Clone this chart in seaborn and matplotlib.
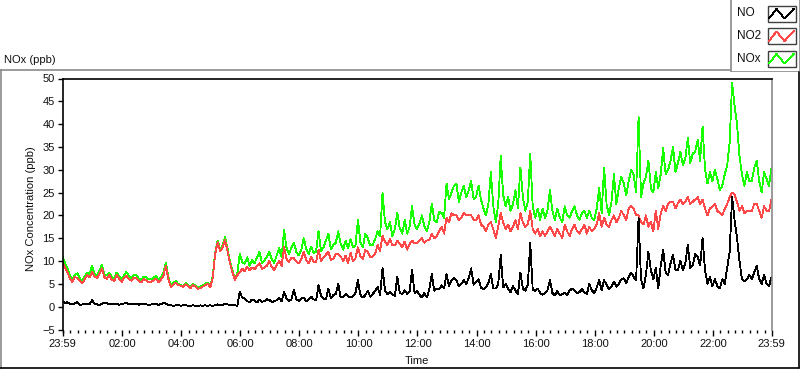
import numpy as np
import pandas as pd
import matplotlib
matplotlib.use("Agg")
import matplotlib.pyplot as plt
from matplotlib.lines import Line2D
from matplotlib.patches import Rectangle
import seaborn as sns

# ---------------- data (5-minute samples, minutes after 23:59) ----------------
minutes = np.arange(0, 1441, 5)

nox = [
    11.0, 9.6, 8.5, 6.8, 6.0, 7.0, 7.3, 6.2, 5.6, 6.6, 7.5, 7.0,
    9.0, 7.2, 6.8, 7.8, 9.2, 7.1, 6.9, 7.4, 6.5, 6.2, 7.5, 6.7,
    6.0, 6.9, 7.6, 6.6, 6.3, 7.0, 6.9, 6.1, 5.9, 6.6, 6.4, 6.0,
    6.0, 6.4, 6.7, 5.9, 6.5, 7.4, 9.7, 6.5, 4.6, 5.2, 5.6, 5.0,
    4.8, 4.5, 5.2, 4.7, 4.3, 4.9, 4.6, 4.2, 4.4, 4.7, 5.0, 5.3,
    4.5, 6.5, 11.8, 14.5, 12.6, 13.4, 15.2, 12.8, 10.0, 8.0, 6.2, 7.3,
    11.5, 9.8, 9.4, 10.8, 9.0, 10.2, 9.5, 10.8, 12.0, 9.6, 10.0, 11.0,
    12.0, 10.4, 9.6, 11.2, 12.8, 10.8, 16.8, 12.9, 11.5, 13.0, 14.0, 12.0,
    11.2, 12.4, 15.0, 12.6, 11.5, 13.2, 11.8, 12.0, 16.6, 12.2, 13.0, 14.5,
    16.0, 12.6, 13.5, 14.0, 16.5, 13.8, 12.5, 14.5, 12.8, 14.8, 13.0, 13.4,
    19.0, 14.2, 13.0, 16.0, 15.0, 13.4, 13.5, 14.8, 16.5, 15.4, 25.0, 18.5,
    17.0, 18.5, 15.5, 17.0, 20.5, 17.2, 16.0, 19.0, 16.0, 17.5, 22.0, 18.0,
    17.0, 18.2, 20.0, 17.6, 16.5, 18.5, 22.6, 19.0, 18.5, 20.8, 20.5, 19.5,
    27.0, 23.5, 25.0, 26.5, 27.0, 23.0, 25.0, 26.5, 24.0, 25.5, 27.5, 23.5,
    24.0, 26.5, 23.5, 21.5, 20.0, 22.5, 29.5, 22.0, 18.5, 22.5, 33.0, 24.5,
    22.0, 24.0, 21.0, 22.5, 25.5, 21.5, 30.5, 24.0, 21.0, 23.0, 33.5, 22.0,
    19.5, 21.5, 19.0, 21.5, 19.5, 21.0, 25.5, 21.0, 19.0, 21.5, 19.5, 18.5,
    22.0, 20.0, 19.5, 21.0, 22.0, 20.0, 19.0, 20.5, 21.0, 19.5, 21.0, 19.5,
    19.0, 21.5, 26.0, 20.5, 30.5, 22.5, 20.0, 23.0, 29.0, 22.5, 26.0, 28.5,
    27.0, 24.5, 27.5, 30.0, 29.0, 25.0, 41.6, 24.0, 27.0, 28.5, 32.0, 26.0,
    25.0, 29.5, 26.0, 29.0, 34.7, 29.0, 30.0, 32.0, 35.0, 29.5, 31.5, 34.0,
    31.0, 32.5, 37.0, 31.5, 33.5, 34.0, 36.5, 32.0, 39.5, 30.0, 27.0, 29.5,
    27.5, 30.0, 28.0, 25.5, 26.5, 29.0, 31.0, 36.0, 49.0, 44.0, 40.0, 33.0,
    29.0, 26.5, 29.5, 27.5, 27.5, 30.5, 32.0, 27.5, 25.0, 29.5, 28.0, 26.5,
    30.5]

no2 = [
    9.8, 8.6, 7.5, 6.2, 5.4, 6.5, 6.3, 5.7, 5.1, 6.0, 6.9, 6.4,
    7.6, 6.6, 6.3, 7.2, 8.4, 6.5, 6.1, 6.9, 5.9, 5.6, 6.9, 6.1,
    5.4, 6.3, 6.8, 6.0, 5.7, 6.4, 6.2, 5.6, 5.3, 6.0, 5.8, 5.4,
    5.5, 5.8, 6.1, 5.4, 5.9, 6.8, 9.0, 6.0, 4.3, 4.9, 5.3, 4.7,
    4.6, 4.3, 4.9, 4.5, 4.1, 4.7, 4.4, 3.9, 4.1, 4.4, 4.7, 5.0,
    4.2, 6.2, 11.5, 14.1, 12.2, 12.9, 14.6, 12.3, 9.6, 7.6, 5.9, 6.9,
    7.5, 8.3, 7.8, 8.8, 8.0, 8.6, 8.2, 8.9, 9.5, 8.3, 8.5, 9.0,
    10.0, 8.7, 8.0, 9.1, 10.0, 8.9, 13.0, 10.5, 9.8, 10.8, 10.6, 9.9,
    9.5, 10.4, 12.0, 10.2, 9.5, 10.9, 9.8, 9.7, 12.5, 10.0, 10.8, 11.4,
    12.0, 10.3, 10.5, 11.5, 11.5, 11.0, 10.0, 11.2, 9.6, 11.8, 10.0, 10.6,
    13.0, 11.0, 10.5, 12.4, 12.0, 10.8, 11.0, 11.6, 13.5, 12.2, 15.5, 14.2,
    13.5, 14.8, 13.5, 13.4, 14.5, 13.8, 13.0, 14.3, 12.5, 13.7, 14.5, 13.9,
    14.0, 14.5, 15.0, 14.0, 14.5, 14.6, 16.0, 15.0, 15.5, 16.5, 17.5, 16.0,
    19.5, 18.5, 20.5, 20.0, 20.0, 19.0, 19.5, 20.5, 20.0, 20.0, 20.0, 19.0,
    19.0, 20.0, 18.0, 17.5, 16.5, 18.0, 18.5, 17.0, 15.0, 17.5, 20.5, 18.5,
    17.0, 18.0, 16.5, 17.5, 19.0, 17.0, 20.5, 18.5, 17.5, 18.0, 21.0, 17.0,
    16.0, 17.0, 15.5, 16.5, 15.5, 16.5, 17.5, 16.5, 15.5, 17.0, 16.0, 15.0,
    18.0, 16.5, 15.5, 17.0, 18.0, 16.5, 16.0, 17.0, 18.0, 16.0, 17.5, 16.5,
    17.0, 18.0, 20.5, 17.5, 19.5, 18.0, 17.5, 19.0, 20.0, 18.5, 19.5, 21.0,
    20.0, 19.0, 21.5, 22.0, 21.5, 20.0, 20.0, 18.5, 18.0, 20.0, 17.5, 18.5,
    16.5, 21.0, 17.0, 20.5, 22.0, 21.0, 22.5, 23.0, 23.0, 21.5, 22.7, 23.5,
    22.5, 23.0, 24.0, 22.5, 23.0, 23.5, 24.0, 22.5, 23.5, 21.5, 20.0, 21.5,
    22.0, 22.5, 21.0, 20.5, 20.0, 21.5, 22.5, 24.0, 25.0, 24.5, 23.0, 21.0,
    22.0, 20.5, 21.0, 21.0, 21.0, 22.5, 22.5, 21.0, 19.5, 22.0, 21.0, 21.0,
    23.5]

no = [
    1.2, 0.8, 1.0, 0.6, 0.5, 0.7, 1.0, 0.4, 0.5, 0.7, 0.6, 0.5,
    1.4, 0.7, 0.5, 0.4, 0.6, 0.9, 0.8, 0.5, 0.6, 0.7, 0.6, 0.4,
    0.6, 0.7, 0.8, 0.5, 0.6, 0.6, 0.7, 0.4, 0.6, 0.6, 0.5, 0.4,
    0.5, 0.6, 0.6, 0.4, 0.6, 0.8, 0.7, 0.4, 0.3, 0.2, 0.3, 0.4,
    0.2, 0.3, 0.3, 0.2, 0.2, 0.3, 0.2, 0.1, 0.3, 0.2, 0.3, 0.2,
    0.3, 0.2, 0.3, 0.5, 0.4, 0.4, 0.6, 0.5, 0.4, 0.3, 0.3, 0.2,
    3.2, 2.0, 1.8, 1.2, 1.0, 1.6, 1.3, 0.9, 1.5, 1.1, 1.2, 1.6,
    1.5, 1.0, 1.2, 1.4, 2.0, 1.2, 3.2, 1.8, 1.2, 1.6, 3.7, 1.5,
    1.3, 1.8, 2.0, 1.2, 1.6, 2.2, 1.6, 1.4, 4.7, 2.4, 1.8, 1.6,
    4.0, 1.8, 2.5, 2.8, 5.0, 2.0, 2.1, 2.8, 2.3, 2.0, 2.3, 3.0,
    5.8, 2.6, 2.0, 2.5, 3.5, 2.2, 2.8, 3.4, 4.3, 2.6, 8.4, 3.6,
    2.7, 3.3, 2.7, 2.4, 6.5, 3.0, 2.8, 3.6, 2.8, 3.4, 8.0, 3.0,
    3.5, 2.6, 2.0, 3.0, 2.0, 3.8, 7.2, 3.5, 4.0, 3.8, 4.7, 4.0,
    7.2, 4.5, 5.8, 6.3, 5.8, 4.5, 5.0, 5.8, 5.0, 6.2, 8.4, 4.8,
    5.4, 6.0, 4.2, 3.8, 4.2, 5.2, 7.2, 4.0, 4.0, 5.0, 11.3, 4.2,
    5.0, 4.0, 3.2, 4.5, 3.5, 2.8, 7.5, 4.0, 3.5, 4.8, 13.9, 3.8,
    3.4, 4.0, 3.0, 2.6, 3.0, 3.6, 5.8, 3.0, 2.5, 3.4, 2.5, 2.8,
    3.0, 2.6, 3.5, 4.0, 3.5, 3.0, 3.2, 3.8, 3.2, 2.8, 5.0, 3.6,
    3.0, 4.2, 5.8, 3.6, 5.8, 4.8, 3.8, 4.5, 5.5, 4.4, 5.0, 6.0,
    6.2, 5.2, 6.5, 7.5, 6.5, 5.8, 19.4, 6.0, 4.0, 7.0, 12.0, 8.0,
    6.0, 8.5, 4.0, 9.0, 12.5, 7.5, 7.0, 9.5, 11.4, 8.0, 8.0, 10.0,
    8.0, 9.5, 13.6, 8.5, 9.0, 11.5, 11.0, 9.0, 15.0, 8.0, 5.0, 6.5,
    4.5, 6.0, 4.5, 4.0, 6.0, 5.0, 8.5, 12.0, 24.0, 19.0, 15.0, 10.0,
    6.0, 5.5, 6.0, 7.0, 6.0, 7.5, 9.0, 6.0, 5.0, 7.0, 5.0, 4.5,
    6.5]

species = ["NO", "NO2", "NOx"]
colors = {"NO": "#000000", "NO2": "#ff4848", "NOx": "#18ff00"}

major_ticks = [0, 121, 241, 361, 481, 601, 721, 841, 961, 1081, 1201, 1321, 1440]
major_labels = ["23:59", "02:00", "04:00", "06:00", "08:00", "10:00", "12:00",
                "14:00", "16:00", "18:00", "20:00", "22:00", "23:59"]
y_ticks = [-5, 0, 5, 10, 15, 20, 25, 30, 35, 40, 45, 50]

df = pd.concat([
    pd.DataFrame({"minutes": minutes, "ppb": nox, "species": "NOx"}),
    pd.DataFrame({"minutes": minutes, "ppb": no2, "species": "NO2"}),
    pd.DataFrame({"minutes": minutes, "ppb": no, "species": "NO"}),
], ignore_index=True)

# ---------------- figure ----------------
sns.set_style("white")
plt.rcParams["font.family"] = ["Liberation Sans", "DejaVu Sans"]
plt.rcParams["font.size"] = 8
txt = "#101010"

W, H = 800, 369
fig = plt.figure(figsize=(W / 100, H / 100), dpi=100)
L, R, T, B = 62.5, 771.5, 78.5, 329.5
ax = fig.add_axes([L / W, 1 - B / H, (R - L) / W, (B - T) / H])

sns.lineplot(data=df, x="minutes", y="ppb", hue="species",
             hue_order=["NOx", "NO2", "NO"], palette=colors,
             estimator=None, sort=False, legend=False, lw=0.6, ax=ax)
for ln in ax.lines:
    ln.set_antialiased(False)

ax.set_xlim(0, 1440)
ax.set_ylim(-5, 50)
ax.set_yticks(y_ticks)
ax.set_xticks(major_ticks)
ax.set_xticklabels(major_labels)
ax.set_xticks([m for m in range(1, 1440, 15) if m not in major_ticks], minor=True)
ax.tick_params(axis="x", which="major", direction="out", length=4.5, width=1,
               color="black", pad=2.5, labelsize=8, labelcolor=txt, bottom=True)
ax.tick_params(axis="x", which="minor", direction="out", length=2.5, width=1,
               color="black", bottom=True)
ax.tick_params(axis="y", direction="out", length=3.5, width=1, color="black",
               pad=2, labelsize=8, labelcolor=txt, left=True)

for s in ["top", "left"]:
    ax.spines[s].set_color("black")
    ax.spines[s].set_linewidth(1.2)
ax.spines["right"].set_color("#8a8a8a")
ax.spines["right"].set_linewidth(1.2)
ax.spines["bottom"].set_visible(False)

ax.set_xlabel("Time", fontsize=8, color=txt)
ax.xaxis.set_label_coords(0.5, (B - 361) / (B - T))
ax.xaxis.label.set_va("center")
ax.set_ylabel("NOx Concentration (ppb)", fontsize=8, color=txt)
ax.yaxis.set_label_coords((31 - L) / (R - L), 0.48)
ax.yaxis.label.set_va("center")

fig.text(4 / W, 1 - 60 / H, "NOx (ppb)", ha="left", va="center", fontsize=8, color=txt)

# outer panel frame
def fline(x0, y0, x1, y1, c, lw=1.2):
    fig.add_artist(Line2D([x0 / W, x1 / W], [1 - y0 / H, 1 - y1 / H],
                          color=c, lw=lw, transform=fig.transFigure))

fline(0, 69.5, 730, 69.5, "#8a8a8a")
fline(0.6, 69.5, 0.6, 368, "#8a8a8a")
fline(0, 367.6, 799.4, 367.6, "#000000")
fline(799.4, 71.5, 799.4, 368, "#000000")

# legend panel
lax = fig.add_axes([730 / W, 1 - 72 / H, 70 / W, 72 / H])
lax.set_xlim(730, 800)
lax.set_ylim(72, 0)
lax.axis("off")
lax.add_patch(Rectangle((730.5, -1), 69, 72.5, fill=False, ec="#8a8a8a", lw=1.2))
for i, sp in enumerate(species):
    yc = 13.5 + 22.5 * i
    lax.text(737, yc, sp, ha="left", va="center", fontsize=8.5, color=txt)
    lax.add_patch(Rectangle((767.5, yc - 8), 28, 16, fill=False, ec="#404040", lw=1.0))
    lax.plot([769, 776.5, 784.5, 794], [yc + 5, yc - 4.5, yc + 5, yc - 5],
             color=colors[sp], lw=0.6, antialiased=False)

fig.savefig("out.png", dpi=100)
